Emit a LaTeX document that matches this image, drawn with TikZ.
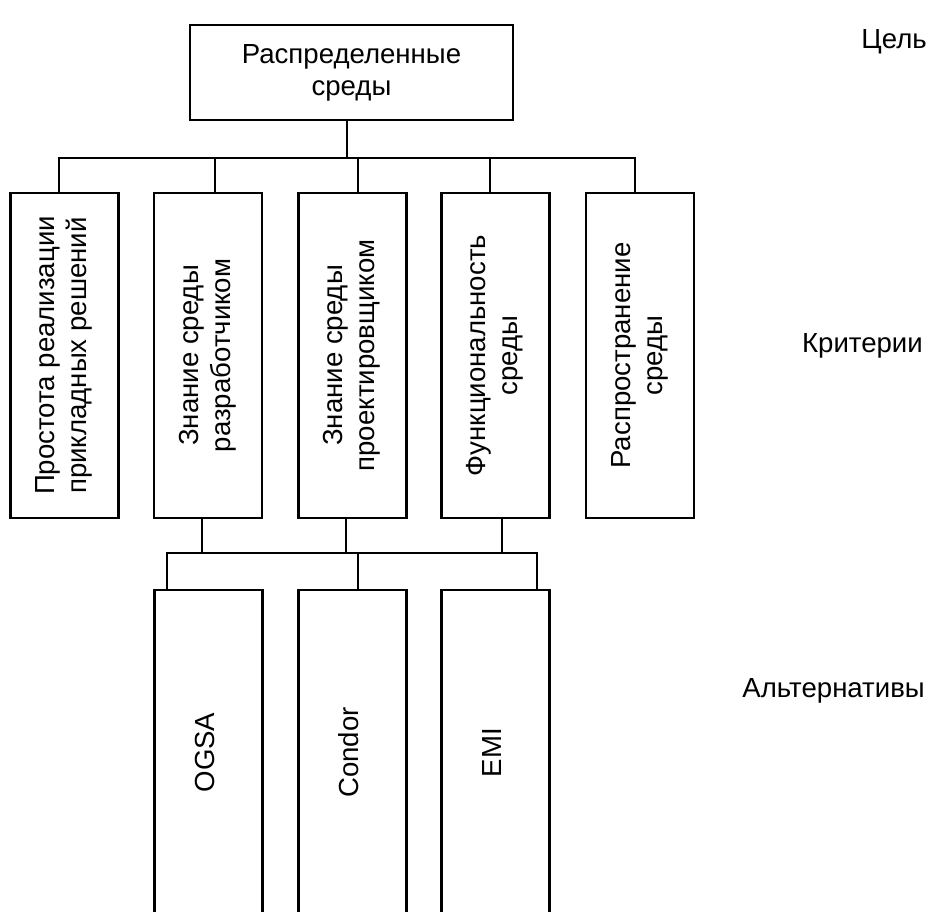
\documentclass[tikz,border=0pt]{standalone}
\usepackage{fontspec}
\setmainfont{Liberation Sans}
\usepackage{graphicx}
\newcommand{\vtext}[1]{\rotatebox{90}{\begin{tabular}{@{}c@{}}#1\end{tabular}}}
\tikzset{
  txt/.style={font=\fontsize{27.6}{32}\selectfont},
  box/.style={txt, draw, line width=2.2pt, minimum width=108pt, minimum height=325pt, inner sep=0pt},
  topbox/.style={txt, draw, line width=2.2pt, minimum width=323pt, minimum height=95pt, align=center, inner sep=0pt},
  conn/.style={line width=2.2pt},
  lvl/.style={txt, anchor=base east, inner sep=0pt}
}
\begin{document}
\begin{tikzpicture}[x=1pt, y=-1pt]
  \path[use as bounding box] (0,0) rectangle (935,911);
  \clip (0,0) rectangle (935,911);
  % goal
  \node[topbox] (goal) at (351.5,72.5) {Распределенные\\среды};
  % criteria
  \node[box] (c1) at (64.5,355.5) {\vtext{Простота реализации\\прикладных решений}};
  \node[box] (c2) at (208,355.5) {\vtext{Знание среды\\разработчиком}};
  \node[box] (c3) at (352.5,355.5) {\vtext{Знание среды\\проектировщиком}};
  \node[box] (c4) at (495.5,355.5) {\vtext{Функциональность\\среды}};
  \node[box] (c5) at (640,355.5) {\vtext{Распространение\\среды}};
  % alternatives
  \node[box] (a1) at (208.5,752.5) {\vtext{OGSA}};
  \node[box] (a2) at (352.5,752.5) {\vtext{Condor}};
  \node[box] (a3) at (495.5,752.5) {\vtext{EMI}};
  % level labels
  \node[lvl] (l1) at (927,48) {Цель};
  \node[lvl] (l2) at (923,352) {Критерии};
  \node[lvl] (l3) at (925,697) {Альтернативы};
  % upper bus
  \coordinate (t0) at (347,158);
  \coordinate (t1) at (59,158);
  \coordinate (t2) at (215,158);
  \coordinate (t3) at (358,158);
  \coordinate (t4) at (490,158);
  \coordinate (t5) at (635,158);
  \draw[conn] (goal.south -| t0) -- (t0);
  \draw[conn] (c1.north -| t1) -- (t1) -- (t5) -- (c5.north -| t5);
  \draw[conn] (c2.north -| t2) -- (t2);
  \draw[conn] (c3.north -| t3) -- (t3);
  \draw[conn] (c4.north -| t4) -- (t4);
  % lower bus
  \coordinate (u2) at (202,553);
  \coordinate (u3) at (346,553);
  \coordinate (u4) at (502,553);
  \coordinate (v1) at (167,553);
  \coordinate (v2) at (358,553);
  \coordinate (v3) at (537,553);
  \draw[conn] (c2.south -| u2) -- (u2);
  \draw[conn] (c3.south -| u3) -- (u3);
  \draw[conn] (c4.south -| u4) -- (u4);
  \draw[conn] (a1.north -| v1) -- (v1) -- (v3) -- (a3.north -| v3);
  \draw[conn] (a2.north -| v2) -- (v2);
\end{tikzpicture}
\end{document}
